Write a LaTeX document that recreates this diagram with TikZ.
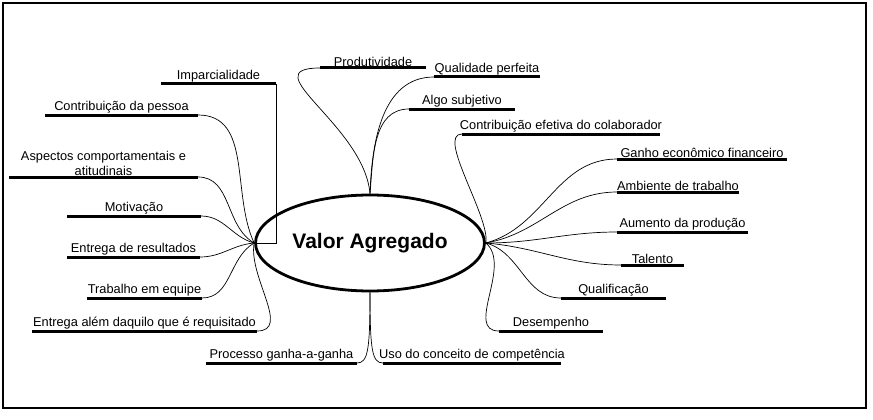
\documentclass[tikz,border=0pt]{standalone}
\usepackage{fontspec}
\setmainfont{Liberation Sans}
\usetikzlibrary{shapes.geometric,calc}
\tikzset{
  bar/.style={line width=3pt},
  lbl/.style={anchor=south, inner sep=1.5pt, font=\fontsize{12.8}{14.5}\selectfont, align=center},
  twig/.style={line width=0.7pt}
}
\begin{document}
\begin{tikzpicture}[x=1pt,y=-1pt]
\useasboundingbox (0,0) rectangle (873,420);
\draw[line width=1.5pt] (3,3) rectangle (866,408);

\node[ellipse, draw, line width=2.8pt, minimum width=186pt, minimum height=96pt,
      font=\fontsize{21}{24}\selectfont\bfseries] (val) at (370,243) {Valor Agregado};

% underlined branch labels: name/left/right/y/text
\foreach \n/\a/\b/\y/\t in {
  imp/161/276/84/Imparcialidade,
  pes/45/198/115/Contribuição da pessoa,
  asp/9/198/177/{Aspectos comportamentais e\\atitudinais},
  mot/67/201/216/Motivação,
  res/67/200/257/Entrega de resultados,
  equ/87/202/298/Trabalho em equipe,
  req/32/257/331/Entrega além daquilo que é requisitado,
  gan/206/357/363/Processo ganha-a-ganha,
  uso/383/561/363/Uso do conceito de competência,
  pro/320/426/68/Produtividade,
  qua/434/540/77/Qualidade perfeita,
  alg/409/515/109/Algo subjetivo,
  efe/462/660/134/Contribuição efetiva do colaborador,
  eco/617/787/159/Ganho econômico financeiro,
  amb/617/739/192/Ambiente de trabalho,
  aum/617/748/232/Aumento da produção,
  tal/621/684/265/Talento,
  qlf/561/666/298/Qualificação,
  des/499/603/331/Desempenho}
{
  \coordinate (\n-l) at (\a,\y);
  \coordinate (\n-r) at (\b,\y);
  \draw[bar] (\n-l) -- (\n-r);
  \node[lbl] (\n) at ($(\n-l)!0.5!(\n-r)$) {\t};
}

% left side
\draw[twig] (imp-r) -- (imp-r |- val.west) -- (val.west);
\draw[twig] (pes-r) to[out=0,in=115] (val.west);
\draw[twig] (asp-r) to[out=0,in=150] (val.west);
\draw[twig] (mot-r) to[out=0,in=165] (val.west);
\draw[twig] (res-r) to[out=0,in=185] (val.west);
\draw[twig] (equ-r) to[out=0,in=210] (val.west);
\draw[twig] (req-r) to[out=0,in=260] (val.west);
% top
\draw[twig] (val.north) to[out=95,in=180,looseness=1.3] (pro-l);
\draw[twig] (val.north) to[out=88,in=180] (qua-l);
\draw[twig] (val.north) to[out=85,in=180] (alg-l);
% right side
\draw[twig] (val.east) to[out=80,in=180,looseness=0.6] (efe-l);
\draw[twig] (val.east) to[out=15,in=180] (eco-l);
\draw[twig] (val.east) to[out=10,in=180] (amb-l);
\draw[twig] (val.east) to[out=0,in=180] (aum-l);
\draw[twig] (val.east) to[out=-5,in=180] (tal-l);
\draw[twig] (val.east) to[out=-15,in=180] (qlf-l);
\draw[twig] (val.east) to[out=-40,in=180] (des-l);
% bottom
\draw[twig] (val.south) .. controls (370,350) and (368,363) .. (gan-r);
\draw[twig] (val.south) .. controls (370,350) and (372,363) .. (uso-l);
\end{tikzpicture}
\end{document}
